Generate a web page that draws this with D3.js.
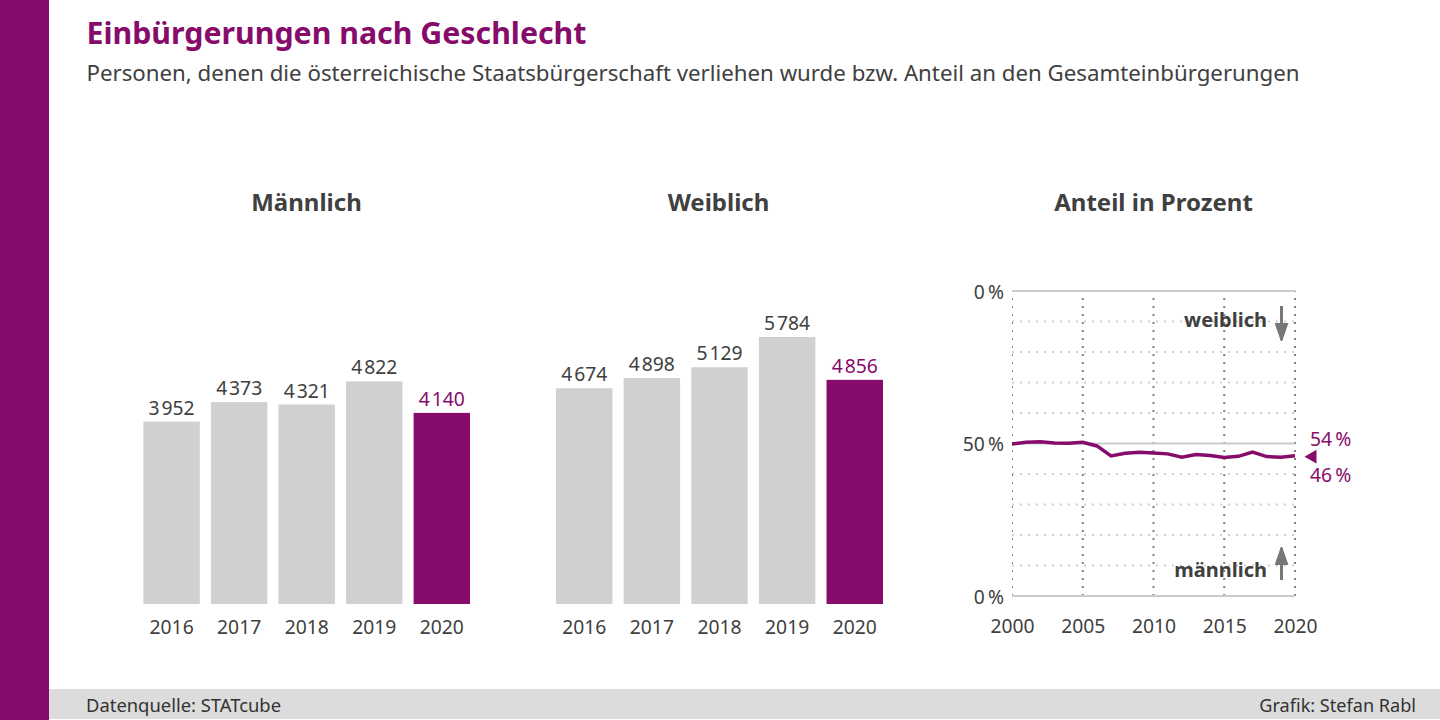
<!DOCTYPE html>
<html>
<head>
<meta charset="utf-8">
<script src="https://cdn.jsdelivr.net/npm/d3@7"></script>
<style>
body { margin: 0; background: #fff; overflow: hidden; }
text { font-family: "Noto Sans", sans-serif; fill: #404040; }
.domain { display: none; }
</style>
</head>
<body>
<svg id="chart" width="1440" height="720"></svg>
<script>
// data
const barYears = ["2016", "2017", "2018", "2019", "2020"];
const maleValues = [3952, 4373, 4321, 4822, 4140];
const femaleValues = [4674, 4898, 5129, 5784, 4856];
const shareYears = [2000, 2001, 2002, 2003, 2004, 2005, 2006, 2007, 2008, 2009, 2010, 2011, 2012, 2013, 2014, 2015, 2016, 2017, 2018, 2019, 2020];
const femaleShare = [50.2, 49.6, 49.4, 49.8, 49.9, 49.6, 50.8, 54.1, 53.2, 52.9, 53.1, 53.4, 54.5, 53.6, 53.9, 54.6, 54.2, 52.8, 54.3, 54.5, 54.0];
const shareXTicks = [2000, 2005, 2010, 2015, 2020];
const shareGridTicks = [10, 20, 30, 40, 60, 70, 80, 90];
const shareLabelTicks = [0, 50, 100];
const shareLabels = ["0\u202f%", "50\u202f%", "0\u202f%"];

const purple = "#870b6b";
const grey = "#d0d0d0";
const text = "#404040";

// thin gap between thousands and the rest
const thousands = d => String(d).replace(/(\d)(\d{3})$/, "$1\u200a$2");

let svg = d3.select("#chart");

// page frame
svg.append("rect").attr("x", 0).attr("y", 0).attr("width", 49).attr("height", 720).attr("fill", purple);
svg.append("rect").attr("x", 49).attr("y", 689).attr("width", 1391).attr("height", 30).attr("fill", "#dcdcdc");

svg.append("text").attr("x", 86.5).attr("y", 44).attr("font-size", 30.3).attr("font-weight", 700)
    .style("fill", purple).text("Einbürgerungen nach Geschlecht");
svg.append("text").attr("x", 86.5).attr("y", 81).attr("font-size", 22.25)
    .text("Personen, denen die österreichische Staatsbürgerschaft verliehen wurde bzw. Anteil an den Gesamteinbürgerungen");
svg.append("text").attr("x", 86).attr("y", 712).attr("font-size", 18.4).style("fill", "#333").text("Datenquelle: STATcube");
svg.append("text").attr("x", 1416).attr("y", 712).attr("font-size", 18.1).attr("text-anchor", "end").style("fill", "#333").text("Grafik: Stefan Rabl");

// same value scale for both bar panels
const y = d3.scaleLinear().domain([0, 5784]).range([604, 337]);

function barPanel(title, values, x0, x1, titleX) {
    svg.append("text").attr("x", titleX).attr("y", 211).attr("text-anchor", "middle")
        .attr("font-size", 24).attr("font-weight", 700).text(title);

    let x = d3.scaleBand().domain(barYears).range([x0, x1]).paddingInner(0.165);
    let g = svg.append("g");

    g.selectAll("rect")
        .data(values)
        .join("rect")
        .attr("x", (d, i) => x(barYears[i]))
        .attr("y", d => y(d))
        .attr("width", x.bandwidth())
        .attr("height", d => y(0) - y(d))
        .attr("fill", (d, i) => i == 4 ? purple : grey);

    g.selectAll("text.value")
        .data(values)
        .join("text")
        .attr("class", "value")
        .attr("x", (d, i) => x(barYears[i]) + x.bandwidth() / 2)
        .attr("y", d => y(d) - 7)
        .attr("text-anchor", "middle")
        .attr("font-size", 19.3)
        .style("fill", (d, i) => i == 4 ? purple : text)
        .text(thousands);

    let axis = svg.append("g")
        .attr("transform", "translate(0,604)")
        .call(d3.axisBottom(x).tickSize(0).tickPadding(16));
    axis.selectAll("text").attr("font-size", 19.3).style("font-family", '"Noto Sans", sans-serif');
}

barPanel("Männlich", maleValues, 143.4, 470, 306.5);
barPanel("Weiblich", femaleValues, 556, 883, 718.5);

// share panel
svg.append("text").attr("x", 1153.5).attr("y", 211).attr("text-anchor", "middle")
    .attr("font-size", 24).attr("font-weight", 700).text("Anteil in Prozent");

const sx = d3.scaleLinear().domain([2000, 2020]).range([1012, 1295]);
const sy = d3.scaleLinear().domain([0, 100]).range([291, 596]);

// left vertical line is cut in half at the plot edge
svg.append("clipPath").attr("id", "plot").append("rect")
    .attr("x", sx(2000)).attr("y", sy(0) - 2).attr("width", sx(2020) - sx(2000) + 2).attr("height", sy(100) - sy(0) + 4);

// dotted grid
svg.append("g")
    .attr("transform", "translate(1012,0)")
    .call(d3.axisLeft(sy).tickValues(shareGridTicks).tickSize(-283).tickFormat("").offset(0))
    .selectAll("line").attr("stroke", "#d0d0d0").attr("stroke-width", 2).attr("stroke-dasharray", "2 6");

svg.append("g")
    .attr("clip-path", "url(#plot)")
    .append("g")
    .attr("transform", "translate(0,596)")
    .call(d3.axisBottom(sx).tickValues(shareXTicks).tickSize(-305).tickFormat("").offset(0))
    .selectAll("line").attr("stroke", "#808080").attr("stroke-width", 2).attr("stroke-dasharray", "2 6");

// solid lines at top, centre, bottom
svg.append("g")
    .attr("transform", "translate(1012,0)")
    .call(d3.axisLeft(sy).tickValues(shareLabelTicks).tickSize(-283).tickPadding(8).offset(0).tickFormat((d, i) => shareLabels[i]))
    .call(g => g.selectAll("line").attr("stroke", "#cccccc").attr("stroke-width", 2))
    .call(g => g.selectAll("text").attr("font-size", 19.3).attr("dy", "0.4em").style("font-family", '"Noto Sans", sans-serif'));

svg.append("g")
    .attr("transform", "translate(0,596)")
    .call(d3.axisBottom(sx).tickValues(shareXTicks).tickSize(0).tickPadding(23).tickFormat(d3.format("d")))
    .selectAll("text").attr("font-size", 19.3).style("font-family", '"Noto Sans", sans-serif');

let line = d3.line()
    .x((d, i) => sx(shareYears[i]))
    .y(d => sy(d));

svg.append("path")
    .datum(femaleShare)
    .attr("d", line)
    .attr("fill", "none")
    .attr("stroke", purple)
    .attr("stroke-width", 3.5);

// end marker and end labels
let last = femaleShare[femaleShare.length - 1];
svg.append("path")
    .attr("d", d3.symbol(d3.symbolTriangle, 82))
    .attr("transform", "translate(" + (sx(2020) + 17.5) + "," + (sy(last) + 1) + ") rotate(-90)")
    .attr("fill", purple);
svg.append("text").attr("x", 1310).attr("y", sy(last) - 10).attr("font-size", 19.3)
    .style("fill", purple).text("54\u202f%");
svg.append("text").attr("x", 1310).attr("y", sy(last) + 26).attr("font-size", 19.3)
    .style("fill", purple).text("46\u202f%");

// direction notes
svg.append("defs").append("marker")
    .attr("id", "arrow")
    .attr("viewBox", "0 0 10 10")
    .attr("preserveAspectRatio", "none")
    .attr("refX", 9.5).attr("refY", 5)
    .attr("markerUnits", "userSpaceOnUse")
    .attr("markerWidth", 18).attr("markerHeight", 14)
    .attr("orient", "auto")
    .append("path")
    .attr("d", "M0,0L10,4.5L10,5.5L0,10Z")
    .attr("fill", "#777");

svg.append("line").attr("x1", 1281.5).attr("x2", 1281.5).attr("y1", 306).attr("y2", 340)
    .attr("stroke", "#777").attr("stroke-width", 3).attr("marker-end", "url(#arrow)");
svg.append("line").attr("x1", 1281.5).attr("x2", 1281.5).attr("y1", 580).attr("y2", 548)
    .attr("stroke", "#777").attr("stroke-width", 3).attr("marker-end", "url(#arrow)");

svg.append("text").attr("x", 1267).attr("y", 327).attr("text-anchor", "end")
    .attr("font-size", 20).attr("font-weight", 700).text("weiblich");
svg.append("text").attr("x", 1267).attr("y", 577).attr("text-anchor", "end")
    .attr("font-size", 20).attr("font-weight", 700).text("männlich");
</script>
</body>
</html>
